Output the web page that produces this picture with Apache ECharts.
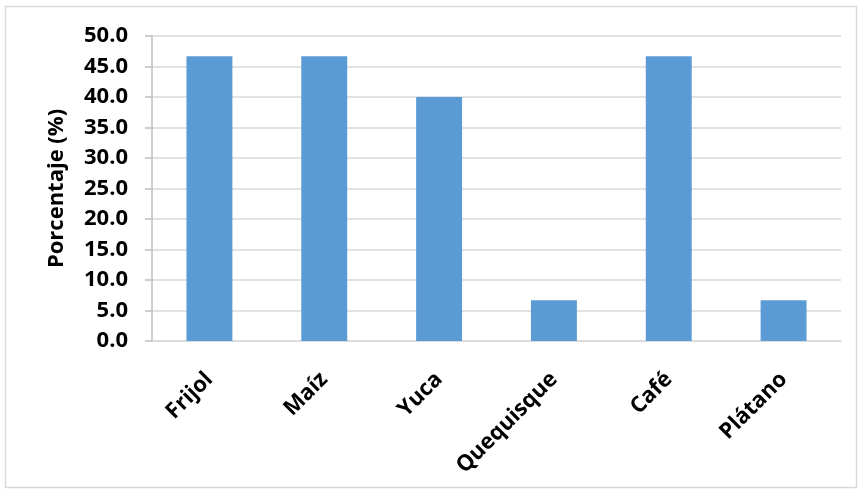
<!DOCTYPE html>
<html>
<head>
<meta charset="utf-8">
<script src="https://cdn.jsdelivr.net/npm/echarts@6/dist/echarts.min.js"></script>
<style>
  html, body { margin: 0; padding: 0; background: #fff; }
  #chart { width: 863px; height: 490px; }
</style>
</head>
<body>
<div id="chart"></div>
<script>
// Crops and share of producers growing each one (%)
const categories = ['Frijol', 'Maíz', 'Yuca', 'Quequisque', 'Café', 'Plátano'];
const percentages = [46.7, 46.7, 40.0, 6.7, 46.7, 6.7];
const yTicks = { min: 0, max: 50, interval: 5 };

const chart = echarts.init(document.getElementById('chart'));
const font = '"Open Sans", "Liberation Sans", sans-serif';

chart.setOption({
  animation: false,
  graphic: [{
    type: 'rect',
    shape: { x: 5.5, y: 6.5, width: 851, height: 481 },
    style: { fill: 'none', stroke: '#d9d9d9', lineWidth: 1.5 },
    silent: true
  }],
  grid: { left: 152, right: 22, top: 36, bottom: 149 },
  xAxis: {
    type: 'category',
    data: categories,
    axisLine: { lineStyle: { color: '#d9d9d9', width: 1.5 } },
    axisTick: { show: false },
    axisLabel: {
      rotate: 45,
      margin: 35,
      color: '#000',
      fontFamily: font,
      fontWeight: 'bold',
      fontSize: 22
    }
  },
  yAxis: {
    type: 'value',
    min: yTicks.min,
    max: yTicks.max,
    interval: yTicks.interval,
    name: 'Porcentaje (%)',
    nameLocation: 'middle',
    nameGap: 84,
    nameTextStyle: { color: '#000', fontFamily: font, fontWeight: 'bold', fontSize: 22 },
    axisLine: { show: true, lineStyle: { color: '#bfbfbf', width: 1.5 } },
    axisTick: { show: true, length: 7, lineStyle: { color: '#bfbfbf', width: 1.5 } },
    splitLine: { lineStyle: { color: '#d9d9d9', width: 1.5 } },
    axisLabel: {
      margin: 24,
      color: '#000',
      fontFamily: font,
      fontWeight: 'bold',
      fontSize: 22,
      formatter: v => v.toFixed(1)
    }
  },
  series: [{
    type: 'bar',
    data: percentages,
    barWidth: '40%',
    itemStyle: { color: '#5b9bd5' }
  }]
});
</script>
</body>
</html>
